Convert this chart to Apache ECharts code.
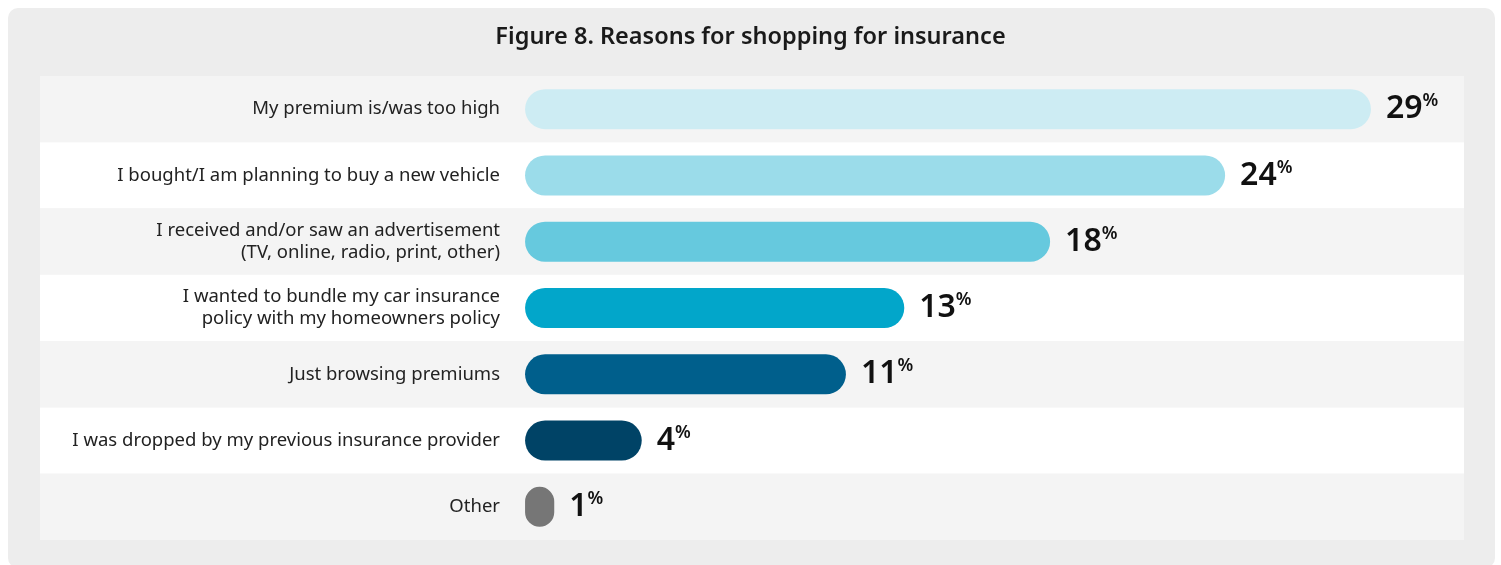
<!DOCTYPE html>
<html>
<head>
<meta charset="utf-8">
<script src="https://cdn.jsdelivr.net/npm/echarts@6/dist/echarts.min.js"></script>
<style>
  html, body { margin: 0; padding: 0; background: #ffffff; }
  #frame { position: absolute; left: 8px; top: 8px; width: 1487px; height: 560px; background: #ededed; border-radius: 10px; }
  #chart { position: absolute; left: 0; top: 0; width: 1501px; height: 565px; }
</style>
</head>
<body>
<div id="frame"></div>
<div id="chart"></div>
<script>
// Survey answers, top to bottom
const reasons = [
  'My premium is/was too high',
  'I bought/I am planning to buy a new vehicle',
  'I received and/or saw an advertisement\n(TV, online, radio, print, other)',
  'I wanted to bundle my car insurance\npolicy with my homeowners policy',
  'Just browsing premiums',
  'I was dropped by my previous insurance provider',
  'Other'
];
// Share of respondents, percent
const shares = [29, 24, 18, 13, 11, 4, 1];
const barColors = ['#cdecf3', '#9bdcea', '#66c9de', '#02a6ca', '#005f8c', '#004366', '#767676'];
const titleText = 'Figure 8. Reasons for shopping for insurance';

const chart = echarts.init(document.getElementById('chart'), null, { renderer: 'canvas' });

chart.setOption({
  backgroundColor: 'transparent',
  animation: false,
  title: {
    text: titleText,
    left: 'center',
    top: 20,
    textStyle: { fontFamily: 'Noto Sans', fontWeight: 600, fontSize: 23.5, color: '#1a1a1a' }
  },
  grid: { left: 40, right: 37, top: 76, bottom: 25, containLabel: false, outerBoundsMode: 'none' },
  xAxis: {
    type: 'value',
    min: -16.63,
    max: 32.19,
    show: false,
    splitLine: { show: false }
  },
  yAxis: {
    type: 'category',
    inverse: true,
    data: reasons,
    // shift the axis in to the bars' zero line so labels sit just left of it
    offset: -485,
    axisLine: { show: false },
    axisTick: { show: false },
    splitArea: { show: true, areaStyle: { color: ['#f4f4f4', '#ffffff'] } },
    axisLabel: {
      margin: 25,
      fontFamily: 'Noto Sans',
      fontSize: 18.5,
      lineHeight: 22,
      color: '#222222',
      align: 'right'
    }
  },
  series: [{
    type: 'bar',
    barWidth: 40,
    data: shares.map((v, i) => ({ value: v, itemStyle: { color: barColors[i] } })),
    itemStyle: { borderRadius: 20 },
    label: {
      show: true,
      position: 'right',
      distance: 15,
      formatter: p => '{n|' + p.value + '}{p|%}',
      rich: {
        n: { fontFamily: 'Noto Sans', fontWeight: 600, fontSize: 32, color: '#111111', lineHeight: 34 },
        p: { fontFamily: 'Noto Sans', fontWeight: 600, fontSize: 18, color: '#111111', verticalAlign: 'top', lineHeight: 34, padding: [0, 0, 12, 0] }
      }
    }
  }]
});
</script>
</body>
</html>
